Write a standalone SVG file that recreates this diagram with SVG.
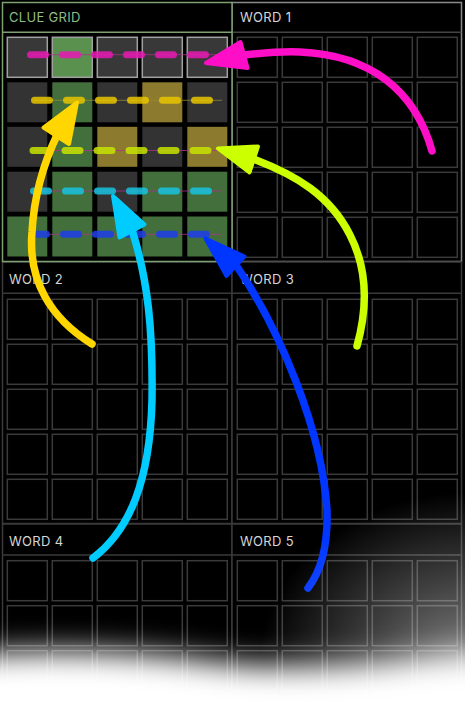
<svg xmlns="http://www.w3.org/2000/svg" width="465" height="720" viewBox="0 0 465 720">
<defs>
<style>
.lbl{font-family:Inter,"Liberation Sans",sans-serif;font-size:13px;fill:#d6d6d6;letter-spacing:0.3px}
.clbl{fill:#8fbd86}
.panel{fill:#000;stroke:#3a3a3a;stroke-width:1.5}
.hdr{stroke:#3a3a3a;stroke-width:1.5}
.cell{fill:#000;stroke:#3a3a3a;stroke-width:1.5}
.g{fill:#436f3c}.k{fill:#333}.y{fill:#8c7a2e}
.top{stroke:#a0a0a0;stroke-width:1.5}
.thin{stroke:#b03090;stroke-width:1;opacity:.75}
.dash{fill:none;stroke-width:7;stroke-linecap:round;stroke-dasharray:15 17;opacity:.85}
.shaft{fill:none;stroke-width:7.5;stroke-linecap:round}
.head{stroke-width:4;stroke-linejoin:round}
</style>
<symbol id="grid" overflow="visible">
<rect class="cell" x="0" y="0" width="40" height="40"/><rect class="cell" x="45" y="0" width="40" height="40"/><rect class="cell" x="90" y="0" width="40" height="40"/><rect class="cell" x="135" y="0" width="40" height="40"/><rect class="cell" x="180" y="0" width="40" height="40"/>
<rect class="cell" x="0" y="45" width="40" height="40"/><rect class="cell" x="45" y="45" width="40" height="40"/><rect class="cell" x="90" y="45" width="40" height="40"/><rect class="cell" x="135" y="45" width="40" height="40"/><rect class="cell" x="180" y="45" width="40" height="40"/>
<rect class="cell" x="0" y="90" width="40" height="40"/><rect class="cell" x="45" y="90" width="40" height="40"/><rect class="cell" x="90" y="90" width="40" height="40"/><rect class="cell" x="135" y="90" width="40" height="40"/><rect class="cell" x="180" y="90" width="40" height="40"/>
<rect class="cell" x="0" y="135" width="40" height="40"/><rect class="cell" x="45" y="135" width="40" height="40"/><rect class="cell" x="90" y="135" width="40" height="40"/><rect class="cell" x="135" y="135" width="40" height="40"/><rect class="cell" x="180" y="135" width="40" height="40"/>
<rect class="cell" x="0" y="180" width="40" height="40"/><rect class="cell" x="45" y="180" width="40" height="40"/><rect class="cell" x="90" y="180" width="40" height="40"/><rect class="cell" x="135" y="180" width="40" height="40"/><rect class="cell" x="180" y="180" width="40" height="40"/>
</symbol>
<filter id="blur" x="-20%" y="-50%" width="140%" height="200%"><feGaussianBlur stdDeviation="15"/></filter>
<radialGradient id="haze" cx="470" cy="660" r="210" gradientUnits="userSpaceOnUse" gradientTransform="translate(470 660) scale(1 0.8) translate(-470 -660)">
<stop offset="0" stop-color="#fff" stop-opacity="0.5"/>
<stop offset="0.5" stop-color="#fff" stop-opacity="0.24"/>
<stop offset="1" stop-color="#fff" stop-opacity="0"/>
</radialGradient>
</defs>
<rect width="465" height="720" fill="#000"/>

<g id="word1">
<rect x="232" y="2.5" width="229.5" height="259" fill="#000" stroke="#8a8a8a" stroke-width="1.5"/>
<line class="hdr" x1="232" y1="32.3" x2="461.5" y2="32.3" style="stroke:#444"/>
<text class="lbl" x="240" y="22">WORD 1</text>
<use href="#grid" x="237.3" y="37.3"/>
</g>

<g id="word2">
<rect class="panel" x="2.5" y="262" width="229.5" height="261.5"/>
<line class="hdr" x1="2.5" y1="293.3" x2="232" y2="293.3"/>
<text class="lbl" x="9" y="283.5">WORD 2</text>
<use href="#grid" x="7.3" y="299.3"/>
</g>

<g id="word3">
<rect class="panel" x="232" y="262" width="229.5" height="261.5"/>
<line class="hdr" x1="232" y1="293.3" x2="461.5" y2="293.3"/>
<text class="lbl" x="240" y="283.5">WORD 3</text>
<use href="#grid" x="237.3" y="299.3"/>
</g>

<g id="word4">
<rect class="panel" x="2.5" y="524" width="229.5" height="262"/>
<line class="hdr" x1="2.5" y1="555" x2="232" y2="555"/>
<text class="lbl" x="9" y="545.5">WORD 4</text>
<use href="#grid" x="7.3" y="560.7"/>
</g>

<g id="word5">
<rect class="panel" x="232" y="524" width="229.5" height="262"/>
<line class="hdr" x1="232" y1="555" x2="461.5" y2="555"/>
<text class="lbl" x="240" y="545.5">WORD 5</text>
<use href="#grid" x="237.3" y="560.7"/>
</g>

<g id="clue-grid">
<rect x="2.5" y="2.5" width="229.5" height="259" fill="#000" stroke="#7ca070" stroke-width="1.5"/>
<line x1="2.5" y1="32.3" x2="232" y2="32.3" stroke="#7ca070" stroke-width="1.5"/>
<text class="lbl clbl" x="9" y="22">CLUE GRID</text>
<g class="top">
<rect x="7.3" y="37.3" width="40" height="40" fill="#383838"/>
<rect x="52.3" y="37.3" width="40" height="40" fill="#5a914e"/>
<rect x="97.3" y="37.3" width="40" height="40" fill="#383838"/>
<rect x="142.3" y="37.3" width="40" height="40" fill="#383838"/>
<rect x="187.3" y="37.3" width="40" height="40" fill="#383838"/>
</g>
<rect class="k" x="7.3" y="82.3" width="40" height="40"/>
<rect class="g" x="52.3" y="82.3" width="40" height="40"/>
<rect class="k" x="97.3" y="82.3" width="40" height="40"/>
<rect class="y" x="142.3" y="82.3" width="40" height="40"/>
<rect class="k" x="187.3" y="82.3" width="40" height="40"/>
<rect class="k" x="7.3" y="126.8" width="40" height="40"/>
<rect class="g" x="52.3" y="126.8" width="40" height="40"/>
<rect class="y" x="97.3" y="126.8" width="40" height="40"/>
<rect class="k" x="142.3" y="126.8" width="40" height="40"/>
<rect class="y" x="187.3" y="126.8" width="40" height="40"/>
<rect class="k" x="7.3" y="171.7" width="40" height="40"/>
<rect class="g" x="52.3" y="171.7" width="40" height="40"/>
<rect class="k" x="97.3" y="171.7" width="40" height="40"/>
<rect class="g" x="142.3" y="171.7" width="40" height="40"/>
<rect class="g" x="187.3" y="171.7" width="40" height="40"/>
<rect class="g" x="7.3" y="216.5" width="40" height="40"/>
<rect class="g" x="52.3" y="216.5" width="40" height="40"/>
<rect class="g" x="97.3" y="216.5" width="40" height="40"/>
<rect class="g" x="142.3" y="216.5" width="40" height="40"/>
<rect class="g" x="187.3" y="216.5" width="40" height="40"/>
<g id="clue-paths">
<line class="thin" x1="30" y1="54.7" x2="222" y2="54.7"/>
<line class="dash" x1="30.5" y1="54.7" x2="206" y2="54.7" stroke="#e61ab4"/>
<line class="thin" x1="34" y1="100.3" x2="222" y2="100.3" style="stroke:#9a8a30"/>
<line class="dash" x1="34.5" y1="100.3" x2="210" y2="100.3" stroke="#e8c400"/>
<line class="thin" x1="33" y1="150.5" x2="222" y2="150.5"/>
<line class="dash" x1="33" y1="150.5" x2="209" y2="150.5" stroke="#c6e400"/>
<line class="thin" x1="33" y1="191" x2="222" y2="191"/>
<line class="dash" x1="33.5" y1="191" x2="209" y2="191" stroke="#16c4e0"/>
<line class="thin" x1="31" y1="234.3" x2="222" y2="234.3"/>
<line class="dash" x1="31.5" y1="234.3" x2="207" y2="234.3" stroke="#1a3ee8"/>
</g>
</g>

<g id="connectors">
<path class="shaft" stroke="#ff0ec8" d="M432,151 C415,90 370,55 300,52 C280,51 262,53 244,55"/>
<polygon class="head" fill="#ff0ec8" stroke="#ff0ec8" points="206,63 240.5,42 247.5,68"/>
<path class="shaft" stroke="#ffd600" d="M92,344 C50,318 28,280 32,232 C34,195 45,160 58,133"/>
<polygon class="head" fill="#ffd600" stroke="#ffd600" points="77,102.5 43.5,127.5 69,144"/>
<path class="shaft" stroke="#ccff00" d="M357,346 C367,310 368,270 350,235 C330,195 295,175 256,160"/>
<polygon class="head" fill="#ccff00" stroke="#ccff00" points="218,148.5 258,146.5 249.5,172.5"/>
<path class="shaft" stroke="#00ccff" d="M93,558 C130,530 150,480 152,400 C153,330 148,280 132,230"/>
<polygon class="head" fill="#00ccff" stroke="#00ccff" points="113,196 119.5,237.5 144.5,224.5"/>
<path class="shaft" stroke="#0036ff" d="M308,588 C322,570 328,545 327,510 C322,430 280,330 236,265"/>
<polygon class="head" fill="#0036ff" stroke="#0036ff" points="205.5,238.5 244.5,256.5 226.5,276"/>
</g>

<g id="fog">
<rect x="0" y="440" width="465" height="280" fill="url(#haze)"/>
<path fill="#fff" filter="url(#blur)" d="M-60,658 C40,646 130,650 220,662 C300,670 370,664 440,656 L530,652 L530,780 L-60,780 Z"/>
</g>
</svg>
